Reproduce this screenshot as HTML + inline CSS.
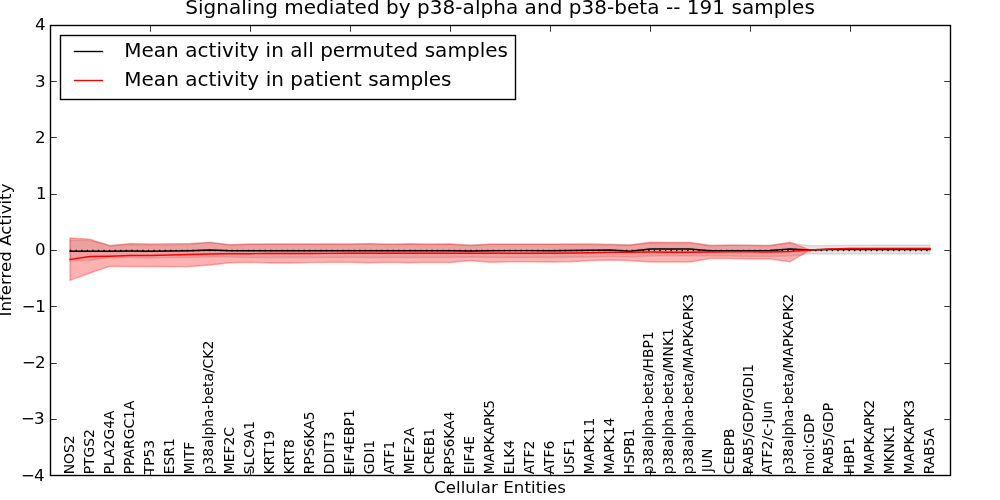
<!DOCTYPE html>
<html><head><meta charset="utf-8"><title>Signaling mediated by p38-alpha and p38-beta</title>
<style>
html,body{margin:0;padding:0;background:#fff;}
body{width:1000px;height:500px;overflow:hidden;}
svg{display:block;}
text{font-family:"DejaVu Sans","Liberation Sans",sans-serif;fill:#000;}
.tk{font-size:16.67px;}
.xl{font-size:13.89px;}
.ti{font-size:20px;}
.lg{font-size:20px;}
</style></head><body>
<svg width="1000" height="500" viewBox="0 0 1000 500">
<rect x="0" y="0" width="1000" height="500" fill="#fff"/>
<polygon points="70,240.00 90,240.50 110,245.00 130,244.50 150,245.00 170,245.00 190,244.50 210,242.00 230,245.00 250,244.50 270,244.30 290,244.30 310,244.30 330,244.30 350,244.30 370,244.30 390,244.30 410,244.30 430,244.30 450,244.30 470,244.80 490,244.30 510,244.30 530,244.30 550,244.30 570,244.00 590,243.50 610,244.00 630,245.00 650,243.00 670,243.00 690,243.00 710,245.00 730,245.00 750,245.00 770,245.00 790,243.00 810,245.80 830,245.50 850,245.20 870,245.00 890,245.00 910,245.00 930,245.00 930,254.00 910,254.00 890,254.00 870,254.00 850,254.00 830,254.00 810,254.00 790,256.00 770,256.50 750,256.50 730,256.00 710,256.00 690,256.00 670,256.00 650,256.00 630,257.00 610,256.50 590,257.00 570,257.30 550,257.50 530,257.50 510,257.50 490,257.50 470,257.00 450,257.50 430,257.50 410,257.50 390,257.50 370,257.50 350,257.50 330,257.50 310,257.50 290,257.50 270,257.50 250,257.50 230,257.00 210,257.00 190,257.50 170,257.50 150,258.00 130,257.50 110,257.50 90,260.50 70,261.00" fill="#000" fill-opacity="0.1" stroke="#000" stroke-opacity="0.1" stroke-width="1.39"/>
<polygon points="70,238.00 90,239.30 110,246.00 130,243.50 150,244.00 170,243.80 190,243.50 210,242.60 230,244.80 250,244.00 270,244.00 290,244.00 310,244.00 330,244.00 350,244.00 370,243.60 390,244.30 410,243.80 430,244.20 450,244.00 470,245.50 490,244.20 510,244.20 530,244.20 550,244.20 570,244.30 590,244.50 610,244.80 630,245.00 650,242.30 670,242.50 690,242.50 710,245.80 730,245.20 750,245.40 770,245.80 790,242.20 810,250.00 830,249.00 850,248.50 870,248.50 890,248.50 910,248.50 930,248.50 930,248.50 910,248.50 890,248.50 870,248.50 850,248.50 830,249.00 810,250.00 790,261.80 770,259.00 750,259.00 730,258.50 710,258.50 690,262.00 670,262.00 650,262.00 630,260.50 610,260.00 590,260.50 570,261.80 550,262.00 530,261.80 510,261.80 490,262.20 470,260.50 450,262.50 430,262.30 410,262.80 390,262.20 370,262.80 350,262.20 330,262.20 310,262.60 290,263.00 270,263.00 250,262.20 230,262.80 210,265.00 190,266.50 170,266.80 150,266.50 130,266.50 110,266.20 90,273.00 70,280.30" fill="#f00" fill-opacity="0.3" stroke="#f00" stroke-opacity="0.3" stroke-width="1.39"/>
<line x1="70" y1="250.5" x2="930" y2="250.5" stroke="#000" stroke-width="1.39" stroke-dasharray="1.39 4.17"/>
<polyline points="70,251.30 90,251.30 110,251.20 130,251.00 150,251.20 170,251.00 190,250.70 210,250.00 230,250.70 250,250.80 270,250.80 290,250.80 310,250.80 330,250.80 350,250.70 370,250.70 390,250.70 410,250.70 430,250.70 450,250.70 470,251.00 490,250.70 510,250.60 530,250.60 550,250.70 570,250.50 590,250.30 610,250.00 630,251.20 650,249.00 670,249.00 690,249.00 710,250.70 730,250.70 750,250.80 770,250.50 790,249.00 810,250.00 830,249.50 850,249.50 870,249.50 890,249.50 910,249.50 930,249.50" fill="none" stroke="#000" stroke-width="1.39" stroke-linejoin="round" stroke-linecap="square"/>
<polyline points="70,259.50 90,256.50 110,256.20 130,255.50 150,255.50 170,255.00 190,254.50 210,254.00 230,253.80 250,253.70 270,253.50 290,253.50 310,253.50 330,253.40 350,253.30 370,253.30 390,253.30 410,253.30 430,253.30 450,253.30 470,253.20 490,253.20 510,253.20 530,253.20 550,253.20 570,253.00 590,252.70 610,252.40 630,252.20 650,252.00 670,252.20 690,252.20 710,252.00 730,251.90 750,251.90 770,252.00 790,251.50 810,250.00 830,249.00 850,248.50 870,248.50 890,248.50 910,248.50 930,248.50" fill="none" stroke="#f00" stroke-width="1.39" stroke-linejoin="round" stroke-linecap="square"/>
<rect x="50.5" y="25.5" width="900" height="450" fill="none" stroke="#000" stroke-width="1.39"/>
<path d="M150.5,475.5v-6.3 M150.5,25.5v6.3 M250.5,475.5v-6.3 M250.5,25.5v6.3 M350.5,475.5v-6.3 M350.5,25.5v6.3 M450.5,475.5v-6.3 M450.5,25.5v6.3 M550.5,475.5v-6.3 M550.5,25.5v6.3 M650.5,475.5v-6.3 M650.5,25.5v6.3 M750.5,475.5v-6.3 M750.5,25.5v6.3 M850.5,475.5v-6.3 M850.5,25.5v6.3 M50.5,81.5h6.3 M950.5,81.5h-6.3 M50.5,137.5h6.3 M950.5,137.5h-6.3 M50.5,194.5h6.3 M950.5,194.5h-6.3 M50.5,250.5h6.3 M950.5,250.5h-6.3 M50.5,306.5h6.3 M950.5,306.5h-6.3 M50.5,363.5h6.3 M950.5,363.5h-6.3 M50.5,419.5h6.3 M950.5,419.5h-6.3" stroke="#000" stroke-width="0.8" fill="none"/>
<text class="tk" x="45.50" y="29.60" text-anchor="end">4</text>
<text class="tk" x="45.60" y="86.75" text-anchor="end">3</text>
<text class="tk" x="45.60" y="143.00" text-anchor="end">2</text>
<text class="tk" x="46.50" y="199.35" text-anchor="end">1</text>
<text class="tk" x="45.60" y="254.50" text-anchor="end">0</text>
<text class="tk" x="45.80" y="311.85" text-anchor="end">−<tspan dx="-0.60">1</tspan></text>
<text class="tk" x="45.60" y="368.00" text-anchor="end">−<tspan dx="-1.00">2</tspan></text>
<text class="tk" x="44.60" y="424.25" text-anchor="end">−<tspan dx="-1.00">3</tspan></text>
<text class="tk" x="44.60" y="480.50" text-anchor="end">−<tspan dx="-1.00">4</tspan></text>
<text class="xl" transform="translate(74.2,474.3) rotate(-90)">NOS2</text>
<text class="xl" transform="translate(94.2,474.3) rotate(-90)">PTGS2</text>
<text class="xl" transform="translate(114.2,474.3) rotate(-90)">PLA2G4A</text>
<text class="xl" transform="translate(134.2,474.3) rotate(-90)">PPARGC1A</text>
<text class="xl" transform="translate(154.2,474.3) rotate(-90)">TP53</text>
<text class="xl" transform="translate(174.2,474.3) rotate(-90)">ESR1</text>
<text class="xl" transform="translate(194.2,474.3) rotate(-90)">MITF</text>
<text class="xl" transform="translate(213.2,474.3) rotate(-90)">p38alpha-beta/CK2</text>
<text class="xl" transform="translate(234.2,474.3) rotate(-90)">MEF2C</text>
<text class="xl" transform="translate(254.2,474.3) rotate(-90)">SLC9A1</text>
<text class="xl" transform="translate(274.2,474.3) rotate(-90)">KRT19</text>
<text class="xl" transform="translate(294.2,474.3) rotate(-90)">KRT8</text>
<text class="xl" transform="translate(314.2,474.3) rotate(-90)">RPS6KA5</text>
<text class="xl" transform="translate(334.2,474.3) rotate(-90)">DDIT3</text>
<text class="xl" transform="translate(354.2,474.3) rotate(-90)">EIF4EBP1</text>
<text class="xl" transform="translate(374.2,474.3) rotate(-90)">GDI1</text>
<text class="xl" transform="translate(394.2,474.3) rotate(-90)">ATF1</text>
<text class="xl" transform="translate(414.2,474.3) rotate(-90)">MEF2A</text>
<text class="xl" transform="translate(434.2,474.3) rotate(-90)">CREB1</text>
<text class="xl" transform="translate(454.2,474.3) rotate(-90)">RPS6KA4</text>
<text class="xl" transform="translate(474.2,474.3) rotate(-90)">EIF4E</text>
<text class="xl" transform="translate(494.2,474.3) rotate(-90)">MAPKAPK5</text>
<text class="xl" transform="translate(514.2,474.3) rotate(-90)">ELK4</text>
<text class="xl" transform="translate(534.2,474.3) rotate(-90)">ATF2</text>
<text class="xl" transform="translate(554.2,474.3) rotate(-90)">ATF6</text>
<text class="xl" transform="translate(574.2,474.3) rotate(-90)">USF1</text>
<text class="xl" transform="translate(594.2,474.3) rotate(-90)">MAPK11</text>
<text class="xl" transform="translate(614.2,474.3) rotate(-90)">MAPK14</text>
<text class="xl" transform="translate(634.2,474.3) rotate(-90)">HSPB1</text>
<text class="xl" transform="translate(653.2,474.3) rotate(-90)">p38alpha-beta/HBP1</text>
<text class="xl" transform="translate(673.2,474.3) rotate(-90)">p38alpha-beta/MNK1</text>
<text class="xl" transform="translate(693.2,474.3) rotate(-90)">p38alpha-beta/MAPKAPK3</text>
<text class="xl" transform="translate(712.4,472.0) rotate(-90)" textLength="23.2" lengthAdjust="spacingAndGlyphs">JUN</text>
<text class="xl" transform="translate(734.2,474.3) rotate(-90)">CEBPB</text>
<text class="xl" transform="translate(753.2,474.3) rotate(-90)">RAB5/GDP/GDI1</text>
<text class="xl" transform="translate(772.4,474.3) rotate(-90)">ATF2/c-Jun</text>
<text class="xl" transform="translate(793.2,474.3) rotate(-90)">p38alpha-beta/MAPKAPK2</text>
<text class="xl" transform="translate(814.2,474.3) rotate(-90)">mol:GDP</text>
<text class="xl" transform="translate(833.2,474.3) rotate(-90)">RAB5/GDP</text>
<text class="xl" transform="translate(854.2,474.3) rotate(-90)">HBP1</text>
<text class="xl" transform="translate(874.2,474.3) rotate(-90)">MAPKAPK2</text>
<text class="xl" transform="translate(894.2,474.3) rotate(-90)">MKNK1</text>
<text class="xl" transform="translate(914.2,474.3) rotate(-90)">MAPKAPK3</text>
<text class="xl" transform="translate(934.2,474.3) rotate(-90)">RAB5A</text>
<text class="tk" x="500" y="493.1" text-anchor="middle" textLength="132.1">Cellular Entities</text>
<text class="tk" transform="translate(10.5,250) rotate(-90)" text-anchor="middle">Inferred Activity</text>
<text class="ti" x="500" y="14" text-anchor="middle" textLength="629.7">Signaling mediated by p38-alpha and p38-beta -- 191 samples</text>
<rect x="60.5" y="35.5" width="455" height="64" fill="#fff" stroke="#000" stroke-width="1.39"/>
<line x1="73.8" y1="51.5" x2="103.2" y2="51.5" stroke="#000" stroke-width="1.39"/>
<line x1="73.8" y1="80.5" x2="103.2" y2="80.5" stroke="#f00" stroke-width="1.39"/>
<text class="lg" x="124.2" y="57.3" textLength="383.8">Mean activity in all permuted samples</text>
<text class="lg" x="124.2" y="85.8" textLength="327.3">Mean activity in patient samples</text>
</svg>
</body></html>
